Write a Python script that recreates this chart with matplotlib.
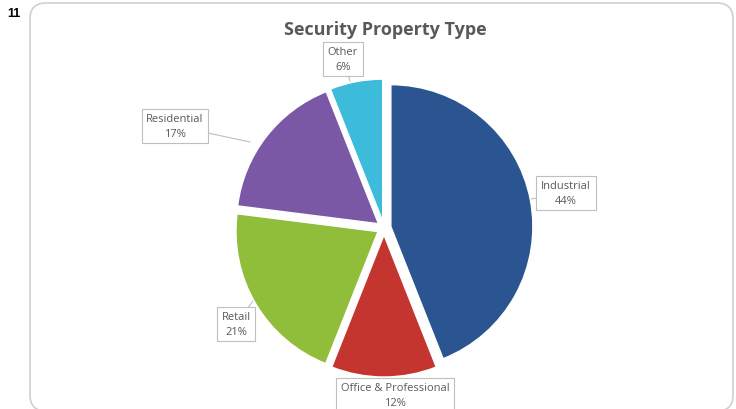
import matplotlib.pyplot as plt
from matplotlib.patches import FancyBboxPatch

# data
categories = ['Industrial', 'Office & Professional', 'Retail', 'Residential', 'Other']
shares = [44, 12, 21, 17, 6]
colors = ['#2a5590', '#c4352f', '#90bd3a', '#7b58a6', '#3cbbdb']
# label box centres in pixels (x, y from top)
label_pos = [(566, 194), (395, 396), (236, 325), (175, 127), (343, 60)]
# leader tips (x, y from top)
tips = [(531, 200), (395, 384), (253, 302), (250, 143), (350, 82)]

W, H = 736, 410
fig = plt.figure(figsize=(W / 100, H / 100), dpi=100)
ax = fig.add_axes([0, 0, 1, 1])

def Y(y):
    return H - y

# chart frame
frame = FancyBboxPatch((30, Y(412)), 703, 408, boxstyle='round,pad=0,rounding_size=16',
                       fc='white', ec='#d0d0d0', lw=1.2)
ax.add_patch(frame)
ax.text(14, Y(14), '11', fontsize=9, fontweight='bold', ha='center', va='center',
        family='Liberation Sans')

ax.text(385, Y(30), 'Security Property Type', fontsize=13, fontweight='bold',
        color='#595959', ha='center', va='center', family='Open Sans')

# explode is in data units (pixels here)
wedges, _ = ax.pie(shares, colors=colors, startangle=90, counterclock=False,
                   center=(384, Y(229)), radius=142, explode=[7] * 5,
                   wedgeprops=dict(edgecolor='white', linewidth=1.0))
for w in wedges:
    w.set_zorder(3)

for cat, val, (lx, ly), (tx, ty) in zip(categories, shares, label_pos, tips):
    ax.plot([lx, tx], [Y(ly), Y(ty)], color='#bfbfbf', lw=0.8, zorder=2)
    ax.text(lx, Y(ly), f'{cat}\n{val}%', fontsize=8, color='#595959', ha='center',
            va='center', family='Open Sans', linespacing=1.4, zorder=5,
            bbox=dict(boxstyle='square,pad=0.42', fc='white', ec='#bfbfbf', lw=0.8))

ax.set_xlim(0, W)
ax.set_ylim(0, H)
ax.set_aspect('equal')
ax.axis('off')

fig.savefig('out.png', dpi=100)
